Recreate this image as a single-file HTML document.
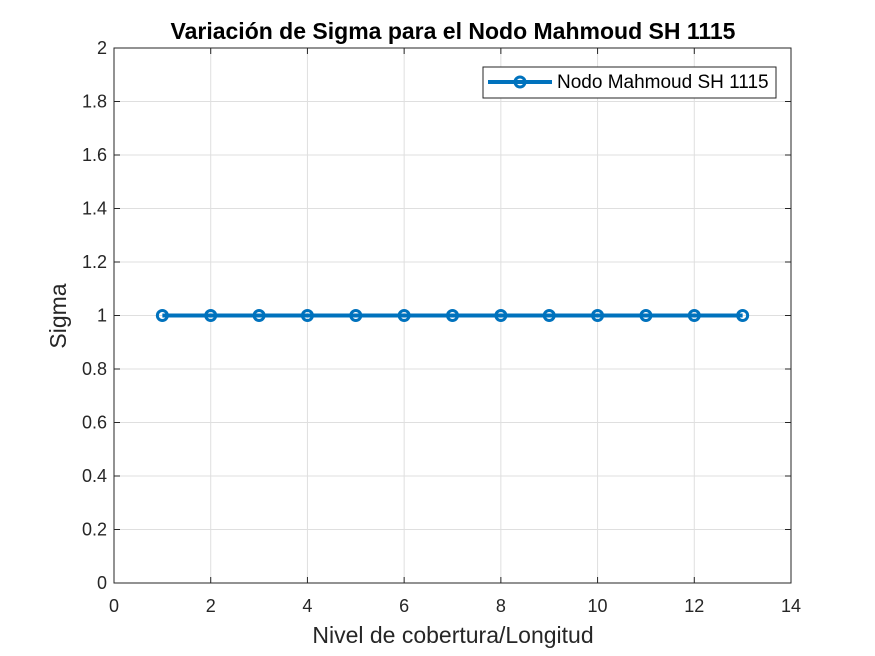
<!DOCTYPE html>
<html><head><meta charset="utf-8">
<style>
html,body{margin:0;padding:0;background:#fff;}
svg{display:block;font-family:"Liberation Sans",Arial,sans-serif;}
</style></head>
<body>
<svg id="chart" width="875" height="656" viewBox="0 0 875 656">
  <rect width="875" height="656" fill="#fff"/>
  <text x="453" y="39" text-anchor="middle" font-size="23" font-weight="bold" fill="#000">Variación de Sigma para el Nodo Mahmoud SH 1115</text>
  <g id="grid"></g>
  <rect x="114" y="48" width="677" height="535" fill="none" stroke="#262626" stroke-width="1"/>
  <g id="ticks"></g>
  <g id="series"></g>
  <text x="453" y="643" text-anchor="middle" font-size="23" fill="#262626">Nivel de cobertura/Longitud</text>
  <text transform="translate(66,316) rotate(-90)" text-anchor="middle" font-size="23" fill="#262626">Sigma</text>
  <g>
    <rect x="483" y="67" width="293" height="31" fill="#fff" stroke="#262626" stroke-width="1"/>
    <line x1="488" y1="82" x2="552" y2="82" stroke="#0072BD" stroke-width="4"/>
    <circle cx="520" cy="82" r="5" fill="none" stroke="#0072BD" stroke-width="3"/>
    <text x="557" y="88" font-size="19" fill="#000">Nodo Mahmoud SH 1115</text>
  </g>
</svg>
<script>
const xValues=[1,2,3,4,5,6,7,8,9,10,11,12,13];
const sigmaValues=[1,1,1,1,1,1,1,1,1,1,1,1,1];
const xTicks=[0,2,4,6,8,10,12,14];
const yTicks=[0,0.2,0.4,0.6,0.8,1,1.2,1.4,1.6,1.8,2];
const X0=114,X1=791,Y0=583,Y1=48;
const sx=v=>X0+(v-0)/(14-0)*(X1-X0);
const sy=v=>Y0-(v-0)/(2-0)*(Y0-Y1);
const NS='http://www.w3.org/2000/svg';
function mk(tag,attrs,parent){const e=document.createElementNS(NS,tag);for(const k in attrs)e.setAttribute(k,attrs[k]);parent.appendChild(e);return e;}
const grid=document.getElementById('grid'),ticks=document.getElementById('ticks'),series=document.getElementById('series');
xTicks.forEach(t=>{
  const x=sx(t);
  const g=mk('line',{x1:x,x2:x,y1:Y1,y2:Y0,stroke:'#dfdfdf','stroke-width':1},grid);
  
  
  mk('line',{x1:x,x2:x,y1:Y0,y2:Y0-6,stroke:'#262626'},ticks);
  mk('line',{x1:x,x2:x,y1:Y1,y2:Y1+6,stroke:'#262626'},ticks);
  const l=mk('text',{x:x,y:Y0+29,'text-anchor':'middle','font-size':18,fill:'#262626'},ticks);
  l.textContent=t;
  
  
});
yTicks.forEach(t=>{
  const y=sy(t);
  const g=mk('line',{x1:X0,x2:X1,y1:y,y2:y,stroke:'#dfdfdf','stroke-width':1},grid);
  
  
  mk('line',{x1:X0,x2:X0+6,y1:y,y2:y,stroke:'#262626'},ticks);
  mk('line',{x1:X1,x2:X1-6,y1:y,y2:y,stroke:'#262626'},ticks);
  const l=mk('text',{x:X0-7,y:y+6,'text-anchor':'end','font-size':18,fill:'#262626'},ticks);
  l.textContent=String(t);
  
  
});
const pts=xValues.map((x,i)=>sx(x)+','+sy(sigmaValues[i])).join(' ');
const pl=mk('polyline',{points:pts,fill:'none',stroke:'#0072BD','stroke-width':4},series);


xValues.forEach((x,i)=>{
  const c=mk('circle',{cx:sx(x),cy:sy(sigmaValues[i]),r:5,fill:'none',stroke:'#0072BD','stroke-width':3},series);
  
  
});
</script>
</body></html>
